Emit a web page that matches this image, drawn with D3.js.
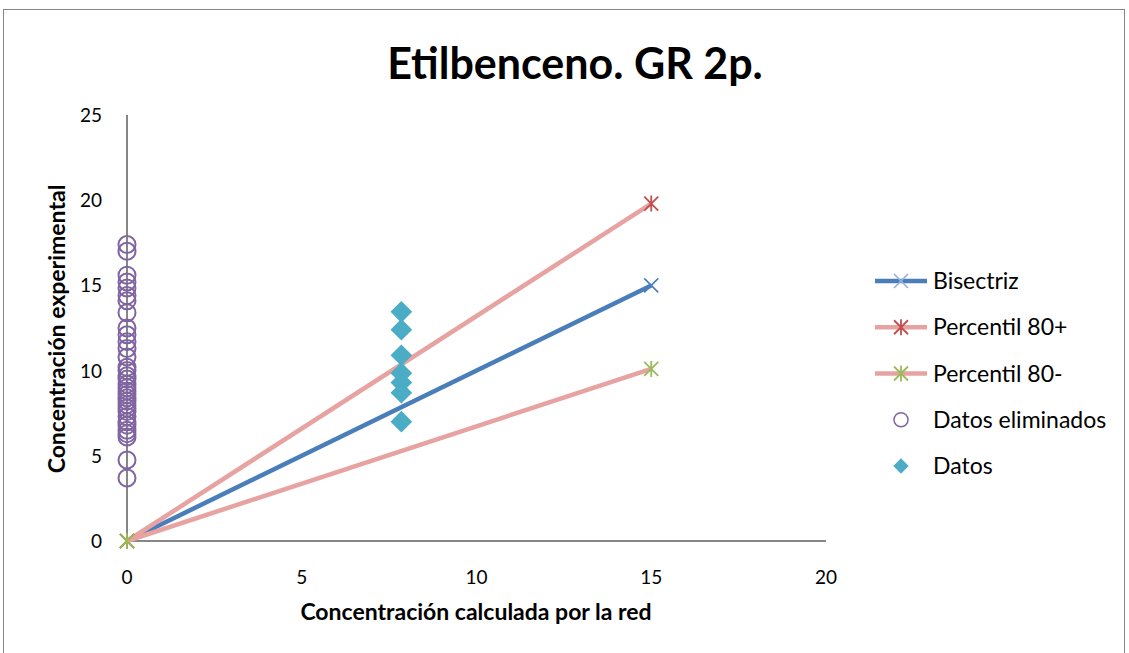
<!DOCTYPE html>
<html>
<head>
<meta charset="utf-8">
<script src="https://cdn.jsdelivr.net/npm/d3@7"></script>
<style>
  body { margin: 0; background: #fff; }
  text { font-family: Lato, "Open Sans", sans-serif; }
</style>
</head>
<body>
<div id="canvas"></div>
<script>
const width = 1129;
const height = 653;

// series values
var bisectriz = [[0, 0], [15, 15]];
var percentil80mas = [[0, 0], [15, 19.8]];
var percentil80menos = [[0, 0], [15, 10.1]];

var eliminadosX = 0;
var eliminadosY = [17.4, 17.0, 15.6, 15.2, 14.85, 14.4, 14.1, 13.4, 12.5, 12.1, 11.7, 11.3,
    10.8, 10.2, 10.0, 9.7, 9.5, 9.2, 9.0, 8.8, 8.6, 8.4, 8.2, 8.0, 7.8, 7.6, 7.3,
    7.0, 6.8, 6.5, 6.3, 6.1, 4.75, 3.7];

var datosX = 7.85;
var datosY = [13.45, 12.4, 10.9, 9.85, 9.3, 8.7, 7.0];

var xTicks = [0, 5, 10, 15, 20];
var yTicks = [0, 5, 10, 15, 20, 25];

var legendNames = ["Bisectriz", "Percentil 80+", "Percentil 80-", "Datos eliminados", "Datos"];

const svg = d3.select("#canvas")
    .append("svg")
    .attr("width", width)
    .attr("height", height)
    .style("background-color", "white");

// outer frame
svg.append("rect")
    .attr("x", 3.5).attr("y", 9.5)
    .attr("width", 1121).attr("height", 660)
    .attr("fill", "none")
    .attr("stroke", "#868686")
    .attr("stroke-width", 1);

var x = d3.scaleLinear().domain([0, 20]).range([127, 826]);
var y = d3.scaleLinear().domain([0, 25]).range([541, 115]);

// axes
svg.append("line")
    .attr("x1", x(0)).attr("x2", x(0))
    .attr("y1", y(25)).attr("y2", y(0))
    .attr("stroke", "#868686").attr("stroke-width", 2);
svg.append("line")
    .attr("x1", x(0)).attr("x2", x(20))
    .attr("y1", y(0)).attr("y2", y(0))
    .attr("stroke", "#868686").attr("stroke-width", 2);

svg.selectAll(".ytick")
    .data(yTicks)
    .join("text")
    .attr("class", "ytick")
    .attr("x", 102)
    .attr("y", d => y(d) + 7)
    .attr("text-anchor", "end")
    .attr("font-size", "19px")
    .text(d => d);

svg.selectAll(".xtick")
    .data(xTicks)
    .join("text")
    .attr("class", "xtick")
    .attr("x", d => x(d))
    .attr("y", 584)
    .attr("text-anchor", "middle")
    .attr("font-size", "19px")
    .text(d => d);

// titles
svg.append("text")
    .attr("x", 575).attr("y", 79)
    .attr("text-anchor", "middle")
    .attr("font-size", "43px")
    .attr("font-weight", "bold")
    .text("Etilbenceno. GR 2p.");

svg.append("text")
    .attr("x", 476).attr("y", 620)
    .attr("text-anchor", "middle")
    .attr("font-size", "23px")
    .attr("font-weight", "bold")
    .text("Concentración calculada por la red");

svg.append("text")
    .attr("transform", "translate(65,329) rotate(-90)")
    .attr("text-anchor", "middle")
    .attr("font-size", "23px")
    .attr("font-weight", "bold")
    .text("Concentración experimental");

// marker helpers
function crossMarker(g, cx, cy, color) {
    var s = 7;
    g.append("path")
        .attr("d", `M${cx - s},${cy - s}L${cx + s},${cy + s}M${cx - s},${cy + s}L${cx + s},${cy - s}`)
        .attr("stroke", color).attr("stroke-width", 1.6).attr("fill", "none");
}
function starMarker(g, cx, cy, color) {
    var s = 7;
    g.append("path")
        .attr("d", `M${cx - s},${cy - s}L${cx + s},${cy + s}M${cx - s},${cy + s}L${cx + s},${cy - s}M${cx},${cy - s - 1}L${cx},${cy + s + 1}`)
        .attr("stroke", color).attr("stroke-width", 1.8).attr("fill", "none");
}

var line = d3.line().x(d => x(d[0])).y(d => y(d[1]));

var series = [
    { data: bisectriz, stroke: "#4A7EBB", marker: crossMarker, mcolor: "#4A7EBB" },
    { data: percentil80mas, stroke: "#E6A3A1", marker: starMarker, mcolor: "#C0504D" },
    { data: percentil80menos, stroke: "#E6A3A1", marker: starMarker, mcolor: "#9BBB59" }
];

series.forEach(s => {
    svg.append("path")
        .attr("d", line(s.data))
        .attr("fill", "none")
        .attr("stroke", s.stroke)
        .attr("stroke-width", 4.5);
    s.data.forEach(p => s.marker(svg, x(p[0]), y(p[1]), s.mcolor));
});

// Datos eliminados
svg.selectAll(".elim")
    .data(eliminadosY)
    .join("circle")
    .attr("class", "elim")
    .attr("cx", x(eliminadosX))
    .attr("cy", d => y(d))
    .attr("r", 8.5)
    .attr("fill", "none")
    .attr("stroke", "#8064A2")
    .attr("stroke-width", 2);

// Datos
var diamond = d3.symbol().type(d3.symbolDiamond2).size(300);
svg.selectAll(".datos")
    .data(datosY)
    .join("path")
    .attr("class", "datos")
    .attr("d", diamond)
    .attr("transform", d => `translate(${x(datosX)},${y(d)})`)
    .attr("fill", "#4BACC6");

// legend
var legendY = d3.scalePoint().domain(legendNames).range([281, 466]);
var lg = svg.append("g");
legendNames.forEach((name, i) => {
    var ly = legendY(name);
    if (i < 3) {
        lg.append("line")
            .attr("x1", 875).attr("x2", 927)
            .attr("y1", ly).attr("y2", ly)
            .attr("stroke", series[i].stroke)
            .attr("stroke-width", 4.5);
        series[i].marker(lg, 901, ly, i === 0 ? "#95B3D7" : series[i].mcolor);
    } else if (i === 3) {
        lg.append("circle")
            .attr("cx", 901).attr("cy", ly).attr("r", 7)
            .attr("fill", "none").attr("stroke", "#8064A2").attr("stroke-width", 1.5);
    } else {
        lg.append("path")
            .attr("d", d3.symbol().type(d3.symbolDiamond2).size(150))
            .attr("transform", `translate(901,${ly})`)
            .attr("fill", "#4BACC6");
    }
    lg.append("text")
        .attr("x", 933)
        .attr("y", ly + 8)
        .attr("font-size", "23px")
        .text(name);
});
</script>
</body>
</html>
